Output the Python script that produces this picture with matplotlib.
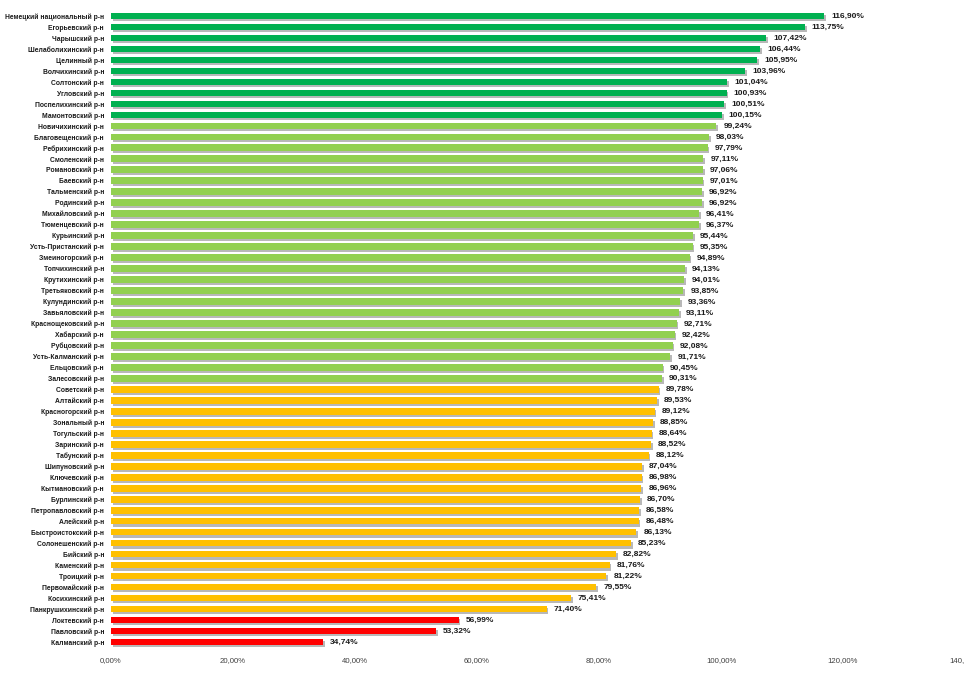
import matplotlib
matplotlib.use("Agg")
import matplotlib.pyplot as plt
import matplotlib.patheffects as pe
import numpy as np

districts = [
    "Немецкий национальный р-н", "Егорьевский р-н", "Чарышский р-н", "Шелаболихинский р-н",
    "Целинный р-н", "Волчихинский р-н", "Солтонский р-н", "Угловский р-н",
    "Поспелихинский р-н", "Мамонтовский р-н", "Новичихинский р-н", "Благовещенский р-н",
    "Ребрихинский р-н", "Смоленский р-н", "Романовский р-н", "Баевский р-н",
    "Тальменский р-н", "Родинский р-н", "Михайловский р-н", "Тюменцевский р-н",
    "Курьинский р-н", "Усть-Пристанский р-н", "Змеиногорский р-н", "Топчихинский р-н",
    "Крутихинский р-н", "Третьяковский р-н", "Кулундинский р-н", "Завьяловский р-н",
    "Краснощековский р-н", "Хабарский р-н", "Рубцовский р-н", "Усть-Калманский р-н",
    "Ельцовский р-н", "Залесовский р-н", "Советский р-н", "Алтайский р-н",
    "Красногорский р-н", "Зональный р-н", "Тогульский р-н", "Заринский р-н",
    "Табунский р-н", "Шипуновский р-н", "Ключевский р-н", "Кытмановский р-н",
    "Бурлинский р-н", "Петропавловский р-н", "Алейский р-н", "Быстроистокский р-н",
    "Солонешенский р-н", "Бийский р-н", "Каменский р-н", "Троицкий р-н",
    "Первомайский р-н", "Косихинский р-н", "Панкрушихинский р-н", "Локтевский р-н",
    "Павловский р-н", "Калманский р-н",
]
values = [
    116.90, 113.75, 107.42, 106.44, 105.95, 103.96, 101.04, 100.93, 100.51, 100.15,
    99.24, 98.03, 97.79, 97.11, 97.06, 97.01, 96.92, 96.92, 96.41, 96.37,
    95.44, 95.35, 94.89, 94.13, 94.01, 93.85, 93.36, 93.11, 92.71, 92.42,
    92.08, 91.71, 90.45, 90.31, 89.78, 89.53, 89.12, 88.85, 88.64, 88.52,
    88.12, 87.04, 86.98, 86.96, 86.70, 86.58, 86.48, 86.13, 85.23, 82.82,
    81.76, 81.22, 79.55, 75.41, 71.40, 56.99, 53.32, 34.74,
]
x_ticks = [0, 20, 40, 60, 80, 100, 120, 140]


def color_for(v):
    if v >= 100:
        return "#00B050"
    if v >= 90:
        return "#92D050"
    if v >= 70:
        return "#FFC000"
    return "#FF0000"


colors = [color_for(v) for v in values]

plt.rcParams['font.family'] = ['Liberation Sans', 'DejaVu Sans']

fig = plt.figure(figsize=(9.64, 6.73), dpi=100)
ax = fig.add_axes([111 / 964, 1 - 647.5 / 673, 854 / 964, 637 / 673])

y = np.arange(len(values))
bars = ax.barh(y, values, height=0.6, color=colors, zorder=2)
for b in bars:
    b.set_path_effects([pe.SimplePatchShadow(offset=(1.2, -1.5), shadow_rgbFace="#7f7f7f", alpha=0.55),
                        pe.Normal()])

for yi, v in zip(y, values):
    ax.annotate(f"{v:.2f}%".replace(".", ","), xy=(v, yi), xytext=(5, -0.3),
                textcoords="offset points", va="center", ha="left",
                fontsize=6.0, fontweight="bold", color="#1a1a1a")

ax.set_ylim(len(values) - 0.5, -0.5)
ax.set_yticks(y)
ax.set_yticklabels(districts, fontsize=4.9, fontweight="bold", color="#1a1a1a")
ax.set_xlim(0, 140)
ax.set_xticks(x_ticks)
ax.set_xticklabels([f"{t:.2f}%".replace(".", ",") for t in x_ticks], fontsize=5.6, color="#404040")
ax.tick_params(axis="both", length=0)
ax.tick_params(axis="x", pad=7)
ax.tick_params(axis="y", pad=5)
for s in ax.spines.values():
    s.set_visible(False)

fig.savefig("out.png", dpi=100)
